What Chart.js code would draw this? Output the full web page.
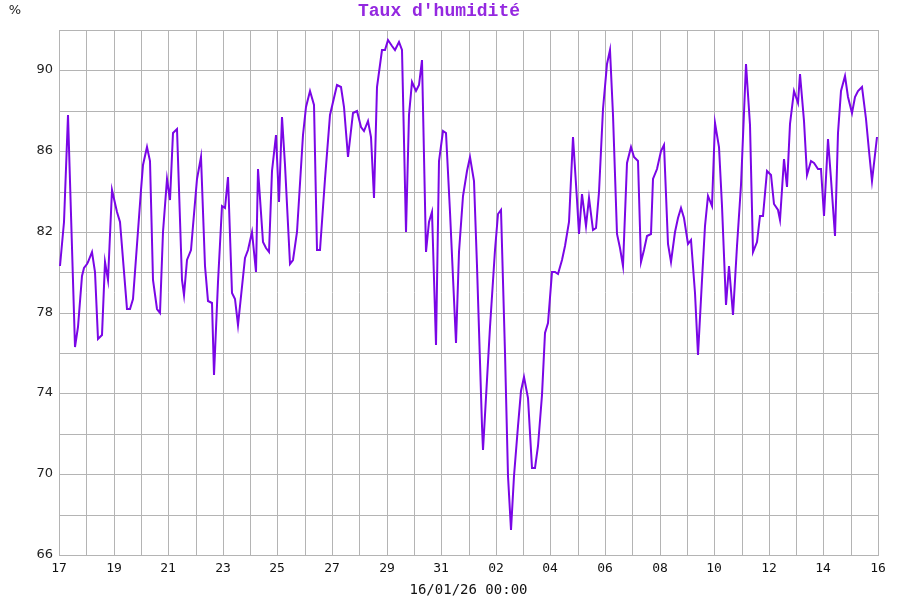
<!DOCTYPE html>
<html>
<head>
<meta charset="utf-8">
<title>Taux d'humidité</title>
<script src="https://cdn.jsdelivr.net/npm/chart.js@4/dist/chart.umd.min.js"></script>
<style>
  body { margin: 0; background: #fff; }
  #wrap { width: 900px; height: 600px; }
</style>
</head>
<body>
<div id="wrap"><canvas id="humidity-chart"></canvas></div>
<script>
// donnees : jours depuis le 17/12 00:00, humidite en %
const days = [
  0.04, 0.19, 0.34, 0.59, 0.68, 0.83, 0.93, 1.01, 1.07, 1.20, 1.32, 1.44, 1.56, 1.68, 1.81, 1.95,
  2.11, 2.23, 2.48, 2.60, 2.72, 3.00, 3.09, 3.21, 3.33, 3.45, 3.58, 3.70, 3.82, 3.95, 4.07, 4.19,
  4.31, 4.49, 4.58, 4.68, 4.82, 4.92, 5.07, 5.20, 5.35, 5.47, 5.59, 5.69, 5.84, 5.96, 6.08, 6.18,
  6.33, 6.45, 6.57, 6.81, 6.93, 7.06, 7.21, 7.30, 7.46, 7.58, 7.69, 7.81, 7.95, 8.06, 8.18, 8.28,
  8.46, 8.58, 8.71, 8.95, 9.04, 9.19, 9.35, 9.46, 9.56, 9.74, 9.93, 10.17, 10.33, 10.45, 10.58, 10.78,
  10.90, 11.06, 11.18, 11.31, 11.43, 11.55, 11.66, 11.82, 11.94, 12.06, 12.19, 12.31, 12.45, 12.58, 12.70, 12.82,
  12.94, 13.07, 13.19, 13.31, 13.44, 13.55, 13.67, 13.81, 13.93, 14.05, 14.18, 14.32, 14.54, 14.66, 14.81, 14.93,
  15.05, 15.20, 15.32, 15.48, 15.54, 15.79, 15.97, 16.09, 16.18, 16.34, 16.44, 16.56, 16.68, 16.80, 16.92, 17.04,
  17.17, 17.31, 17.44, 17.56, 17.68, 17.80, 17.92, 18.05, 18.17, 18.29, 18.41, 18.53, 18.68, 18.82, 18.96, 19.06,
  19.17, 19.30, 19.43, 19.57, 19.67, 19.79, 19.94, 20.06, 20.18, 20.30, 20.43, 20.55, 20.67, 20.79, 20.94, 21.06,
  21.21, 21.31, 21.43, 21.55, 21.67, 21.77, 21.92, 22.04, 22.17, 22.30, 22.42, 22.56, 22.66, 22.78, 22.91, 23.03,
  23.15, 23.30, 23.42, 23.54, 23.66, 23.78, 23.91, 24.03, 24.18, 24.30, 24.42, 24.54, 24.68, 24.82, 24.98, 25.16,
  25.31, 25.43, 25.56, 25.68, 25.80, 25.92, 26.08, 26.20, 26.33, 26.42, 26.55, 26.68, 26.79, 26.92, 27.06, 27.16,
  27.29, 27.41, 27.55, 27.67, 27.79, 27.91, 28.03, 28.16, 28.28, 28.42, 28.52, 28.64, 28.79, 28.91, 29.04, 29.16,
  29.28, 29.42, 29.55, 29.67, 29.79, 29.95
];
const humidity = [
  80.3, 82.5, 87.8, 76.3, 77.3, 79.8, 80.2, 80.4, 80.5, 81.0, 80.0, 76.7, 76.9, 80.5, 79.6, 84.1,
  83.0, 82.5, 78.2, 78.2, 78.7, 84.1, 85.3, 86.2, 85.5, 79.6, 78.2, 78.0, 82.0, 84.6, 83.6, 86.9,
  87.1, 79.6, 78.9, 80.6, 81.1, 82.3, 84.6, 85.7, 80.3, 78.6, 78.5, 74.9, 79.5, 83.3, 83.2, 84.7,
  79.0, 78.7, 77.4, 80.7, 81.1, 82.0, 80.0, 85.1, 81.5, 81.2, 81.0, 85.0, 86.8, 83.5, 87.7, 85.3,
  80.4, 80.6, 82.0, 86.8, 88.2, 89.0, 88.3, 81.1, 81.1, 84.6, 87.8, 89.3, 89.2, 88.2, 85.7, 87.9,
  88.0, 87.2, 87.0, 87.5, 86.7, 83.7, 89.2, 91.0, 91.0, 91.5, 91.2, 91.0, 91.4, 91.0, 82.0, 87.8,
  89.4, 89.0, 89.3, 90.5, 81.0, 82.5, 83.0, 76.4, 85.5, 87.0, 86.9, 83.0, 76.5, 81.0, 83.8, 85.0,
  85.7, 84.5, 80.3, 72.4, 71.2, 77.3, 81.1, 82.9, 83.1, 76.0, 69.9, 67.25, 69.9, 72.4, 74.1, 74.8,
  73.8, 70.3, 70.3, 71.4, 73.9, 77.0, 77.5, 80.0, 80.0, 79.9, 80.6, 81.3, 82.5, 86.7, 83.6, 81.9,
  83.9, 82.3, 83.7, 82.1, 82.2, 84.0, 88.1, 90.3, 91.0, 87.8, 81.9, 81.2, 80.3, 85.4, 86.2, 85.7,
  85.5, 80.5, 81.1, 81.8, 81.9, 84.6, 85.1, 86.0, 86.3, 81.4, 80.5, 82.0, 82.7, 83.2, 82.7, 81.4,
  81.6, 79.0, 75.9, 79.6, 82.3, 83.8, 83.3, 87.4, 86.2, 83.3, 78.4, 80.3, 77.9, 81.3, 84.3, 90.3,
  87.3, 81.0, 81.5, 82.8, 82.8, 85.0, 84.8, 83.4, 83.1, 82.6, 85.6, 84.2, 87.35, 89.0, 88.4, 89.8,
  87.5, 84.8, 85.5, 85.4, 85.1, 85.1, 82.8, 86.6, 84.6, 81.8, 86.9, 89.0, 89.7, 88.7, 87.9, 88.7,
  89.0, 89.2, 87.6, 86.0, 84.5, 86.7
];
const dayLabels = ["17", "19", "21", "23", "25", "27", "29", "31", "02", "04", "06", "08", "10", "12", "14", "16"];
const yLabels = [66, 70, 74, 78, 82, 86, 90];

const gridColor = "#b4b4b4";

// petit "%" en haut a gauche
const percentLabel = {
  id: "percentLabel",
  afterDraw(chart) {
    const c = chart.ctx;
    c.save();
    c.font = "13px 'DejaVu Sans'";
    c.fillStyle = "#222";
    c.textAlign = "center";
    c.textBaseline = "middle";
    c.fillText("%", 15, 11);
    c.restore();
  },
};

const ctx = document.getElementById("humidity-chart");
new Chart(ctx, {
  type: "line",
  data: {
    datasets: [
      {
        data: days.map((d, i) => ({ x: d, y: humidity[i] })),
        borderColor: "#7a06e6",
        borderWidth: 2,
        pointRadius: 0,
        tension: 0,
        fill: false,
      },
    ],
  },
  options: {
    responsive: true,
    maintainAspectRatio: false,
    animation: false,
    layout: { padding: { left: 0, right: 22, top: 0, bottom: 0 } },
    plugins: {
      legend: { display: false },
      tooltip: { enabled: false },
      title: {
        display: true,
        text: "Taux d'humidité",
        color: "#9428e0",
        font: { family: "'Liberation Mono', monospace", size: 18, weight: "bold", lineHeight: 1 },
        padding: { top: 2, bottom: 10 },
      },
    },
    scales: {
      x: {
        type: "linear",
        min: 0,
        max: 30,
        alignToPixels: true,
        afterFit: (s) => { s.height = 45; },
        grid: { color: gridColor, drawTicks: false },
        border: { display: true, color: gridColor },
        ticks: {
          stepSize: 1,
          autoSkip: false,
          maxRotation: 0,
          padding: 6,
          color: "#111",
          font: { family: "'DejaVu Sans Mono', monospace", size: 13 },
          callback: (v) => (v % 2 === 0 ? dayLabels[v / 2] : ""),
        },
        title: {
          display: true,
          text: "16/01/26 00:00",
          color: "#111",
          font: { family: "'DejaVu Sans Mono', monospace", size: 14 },
          padding: { top: 0, bottom: 1 },
        },
      },
      y: {
        min: 66,
        max: 92,
        alignToPixels: true,
        afterFit: (s) => { s.width = 59; },
        grid: { color: gridColor, drawTicks: false },
        border: { display: true, color: gridColor },
        ticks: {
          stepSize: 2,
          padding: 6,
          color: "#222",
          font: { family: "'DejaVu Sans', sans-serif", size: 13 },
          callback: (v) => (yLabels.includes(v) ? v : ""),
        },
      },
    },
  },
  plugins: [percentLabel],
});
</script>
</body>
</html>
